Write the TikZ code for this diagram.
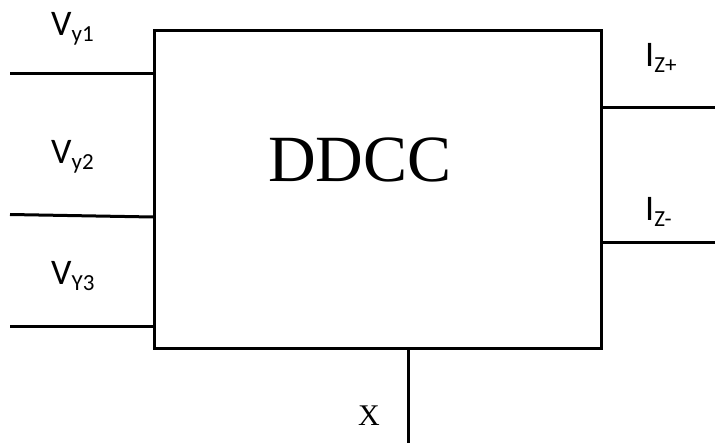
\documentclass[tikz,border=0pt]{standalone}
\usepackage{fontspec}
\setmainfont{Liberation Serif}
\newfontfamily\lblfont{Carlito}
\newcommand{\sig}[2]{{\lblfont\fontsize{36}{36}\selectfont #1\raisebox{-6pt}{\fontsize{23}{23}\selectfont #2}}}
\begin{document}
\begin{tikzpicture}[x=1pt,y=-1pt,
  wire/.style={line width=3pt},
  lbl/.style={inner sep=0pt,anchor=base west}]
\useasboundingbox (0,0) rectangle (715,443);
% block
\node[draw,line width=3pt,minimum width=447pt,minimum height=318pt,inner sep=0pt,anchor=north west]
  (box) at (153,29.5) {};
\node at (360,160) {\fontsize{66}{66}\selectfont DDCC};
% terminal end points
\coordinate (y1) at (10,74);
\coordinate (y2) at (10,214.5);
\coordinate (y3) at (10,326.5);
\coordinate (zp) at (715,107.5);
\coordinate (zm) at (715,243);
\coordinate (x) at (408,443);
% input and output wires
\draw[wire] (y1) -- (y1 -| box.west);
\draw[wire] (y2) -- ([yshift=-2.5pt]y2 -| box.west);
\draw[wire] (y3) -- (y3 -| box.west);
\draw[wire] (zp) -- (zp -| box.east);
\draw[wire] (zm) -- (zm -| box.east);
\draw[wire] (x) -- (x |- box.south);
% labels
\node[lbl] (ly1) at (51,36) {\sig{V}{y1}};
\node[lbl] (ly2) at (51,164) {\sig{V}{y2}};
\node[lbl] (ly3) at (51,285) {\sig{V}{Y3}};
\node[lbl] (lzp) at (645,67) {\sig{I}{Z+}};
\node[lbl] (lzm) at (645,221) {\sig{I}{Z-}};
\node (lx) at (369,416) {\fontsize{30}{30}\selectfont X};
\end{tikzpicture}
\end{document}
